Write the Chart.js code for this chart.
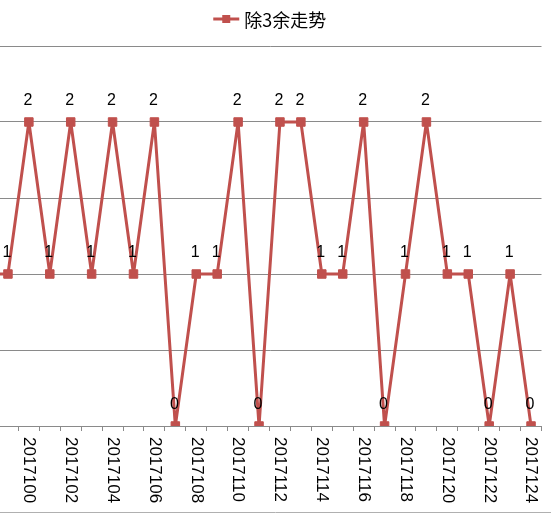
<!DOCTYPE html>
<html>
<head>
<meta charset="utf-8">
<script src="https://cdn.jsdelivr.net/npm/chart.js@4.4.0/dist/chart.umd.min.js"></script>
<style>
  html, body { margin: 0; padding: 0; background: #fff; }
  #wrap { width: 551px; height: 516px; }
</style>
</head>
<body>
<div id="wrap"><canvas id="chart"></canvas></div>
<script>
// периоды (первый уходит за левый край, как на оригинале)
let periods = [
    "2017098", "2017099", "2017100", "2017101", "2017102", "2017103", "2017104",
    "2017105", "2017106", "2017107", "2017108", "2017109", "2017110", "2017111",
    "2017112", "2017113", "2017114", "2017115", "2017116", "2017117", "2017118",
    "2017119", "2017120", "2017121", "2017122", "2017123", "2017124"
];
let remainders = [
    1, 1, 2, 1, 2, 1, 2,
    1, 2, 0, 1, 1, 2, 0,
    2, 2, 1, 1, 2, 0, 1,
    2, 1, 1, 0, 1, 0
];
// подписи оси X - через одну
let tickLabels = periods.filter((p, i) => i % 2 === 0);
let legendLabel = "除3余走势";

let lineColor = "#C0504D";
let gridColor = "#8a8a8a";

const decor = {
    id: 'decor',
    afterDatasetsDraw(chart) {
        const ctx = chart.ctx;
        const meta = chart.getDatasetMeta(0);
        const xs = chart.scales.x;
        const area = chart.chartArea;

        ctx.save();
        // значения над точками
        ctx.font = '16px "Liberation Sans", Arial, sans-serif';
        ctx.fillStyle = '#000';
        ctx.textAlign = 'center';
        ctx.textBaseline = 'middle';
        meta.data.forEach((pt, i) => {
            ctx.fillText(String(remainders[i]), pt.x - 1, pt.y - 21);
        });

        // подписи оси X, повернутые по часовой
        ctx.font = '17px "Liberation Sans", Arial, sans-serif';
        ctx.textAlign = 'left';
        periods.forEach((p, i) => {
            if (!tickLabels.includes(p)) return;
            const x = xs.getPixelForValue(i);
            ctx.save();
            ctx.translate(x, area.bottom + 11);
            ctx.rotate(Math.PI / 2);
            ctx.fillText(p, 0, 0);
            ctx.restore();
        });

        // легенда
        ctx.font = '18px "Noto Sans CJK SC", sans-serif';
        ctx.textAlign = 'left';
        const textW = ctx.measureText(legendLabel).width;
        const markW = 26, gap = 5;
        const cx = (area.left + area.right) / 2 - 1;
        const lx = cx - (markW + gap + textW) / 2;
        const ly = 19;
        ctx.strokeStyle = lineColor;
        ctx.lineWidth = 3;
        ctx.beginPath();
        ctx.moveTo(lx, ly);
        ctx.lineTo(lx + markW, ly);
        ctx.stroke();
        ctx.fillStyle = lineColor;
        ctx.fillRect(lx + markW / 2 - 4, ly - 4, 8, 8);
        ctx.fillStyle = '#000';
        ctx.fillText(legendLabel, lx + markW + gap, ly + 1);

        // нижняя рамка
        ctx.strokeStyle = '#b0b0b0';
        ctx.lineWidth = 1;
        ctx.beginPath();
        ctx.moveTo(0, 512.5);
        ctx.lineTo(chart.width, 512.5);
        ctx.stroke();
        ctx.restore();
    }
};

let ctx = document.getElementById('chart').getContext('2d');
new Chart(ctx, {
    type: 'line',
    data: {
        datasets: [{
            label: legendLabel,
            data: remainders.map((v, i) => ({ x: i, y: v })),
            borderColor: lineColor,
            backgroundColor: lineColor,
            borderWidth: 3,
            borderJoinStyle: 'round',  // без острых пиков на вершинах
            pointStyle: 'rect',
            pointRadius: 6,
            pointBorderWidth: 1,
            pointBackgroundColor: lineColor,
            pointBorderColor: lineColor,
            tension: 0,
            fill: false
        }]
    },
    options: {
        animation: false,
        responsive: true,
        maintainAspectRatio: false,
        layout: {
            autoPadding: false,  // иначе Chart.js добавляет поля под маркеры
            padding: { top: 46, right: 9.5, left: 0, bottom: 0 }
        },
        plugins: {
            legend: { display: false },
            tooltip: { enabled: false }
        },
        scales: {
            x: {
                type: 'linear',
                min: 0.62,
                max: 26.5,
                afterBuildTicks: s => {
                    // засечки между категориями
                    s.ticks = periods.map((p, i) => ({ value: i + 0.5 }));
                },
                ticks: { display: false },
                grid: { drawOnChartArea: false, drawTicks: true, tickLength: 5, color: gridColor },
                border: { color: gridColor, width: 1 },
                afterFit: s => { s.height = 90; }
            },
            y: {
                min: 0,
                max: 2.5,
                ticks: { display: false, stepSize: 0.5 },
                grid: { color: gridColor, drawTicks: false },
                border: { display: false },
                afterFit: s => { s.width = 0; }
            }
        }
    },
    plugins: [decor]
});
</script>
</body>
</html>
